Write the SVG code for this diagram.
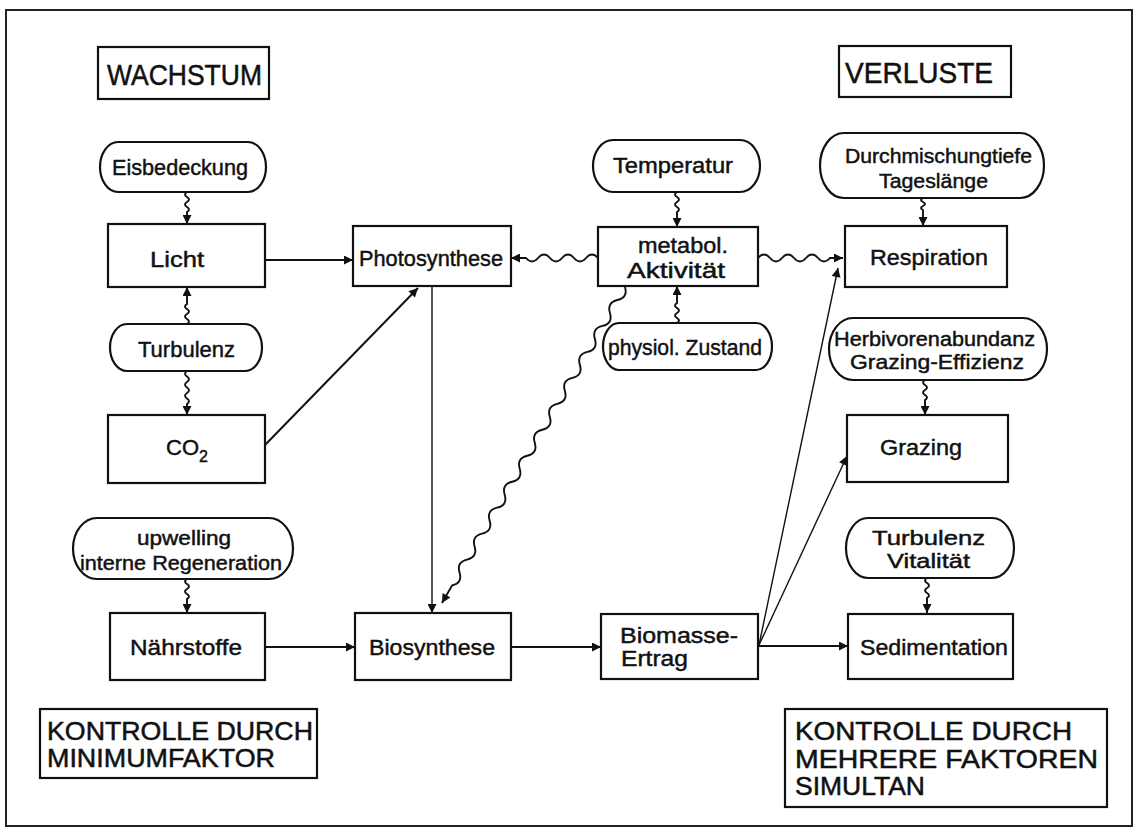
<svg xmlns="http://www.w3.org/2000/svg" width="1141" height="829" viewBox="0 0 1141 829">
<defs>
<marker id="ah" viewBox="0 0 10 10" refX="10" refY="5" markerWidth="10" markerHeight="9" markerUnits="userSpaceOnUse" orient="auto">
<path d="M0,0 L10,5 L0,10 z" fill="#111"/>
</marker>
<style>
.box{fill:#fff;stroke:#111;stroke-width:2.2}
.frame{fill:none;stroke:#222;stroke-width:2}
.t{font-family:"Liberation Sans",Arial,sans-serif;font-size:22px;fill:#111;stroke:#111;stroke-width:0.45}
.s{font-size:20px}
.h{font-family:"Liberation Sans",Arial,sans-serif;font-size:29px;fill:#111;stroke:#111;stroke-width:0.5}
.k{font-family:"Liberation Sans",Arial,sans-serif;font-size:25px;fill:#111;stroke:#111;stroke-width:0.5}
.c{fill:none;stroke:#111;stroke-width:2;marker-end:url(#ah)}
.w{fill:none;stroke:#111;stroke-width:1.9;marker-end:url(#ah)}
.thin{fill:none;stroke:#111;stroke-width:1.4;marker-end:url(#ah)}
</style>
</defs>
<rect width="1141" height="829" fill="#fff"/>
<rect class="frame" x="6" y="10" width="1126" height="816"/>

<g id="connectors">
<path class="c" d="M265,260 L353,260"/>
<path class="c" d="M265,445 L418,288"/>
<path class="thin" d="M432,286 L432,613"/>
<path class="c" d="M265,647 L355,647"/>
<path class="c" d="M511,647 L601,647"/>
<path class="c" d="M758,646 L848,646"/>
<path class="thin" d="M759,645 L838,268"/>
<path class="thin" d="M759,645 L847,456"/>
<path class="w" d="M598,258 q-6,-7 -12,0 t-12,0 t-12,0 t-12,0 t-12,0 t-12,0 l-15,0"/>
<path class="w" d="M758,258 q6,-7 12,0 t12,0 t12,0 t12,0 t12,0 t12,0 l13,0"/>
<path class="w" d="M625,287 q3.16,10.5 -7.52,12.98 t-7.52,12.98 t-7.52,12.98 t-7.52,12.98 t-7.52,12.98 t-7.52,12.98 t-7.52,12.98 t-7.52,12.98 t-7.52,12.98 t-7.52,12.98 t-7.52,12.98 t-7.52,12.98 t-7.52,12.98 t-7.52,12.98 t-7.52,12.98 t-7.52,12.98 t-7.52,12.98 t-7.52,12.98 t-7.52,12.98 t-7.52,12.98 t-7.52,12.98 t-7.52,12.98 t-7.52,12.98 l-10.1,17.5"/>
<path class="w" d="M187,192 q-4,2.5 0,5 t0,5 t0,5 t0,5 l0,12"/>
<path class="w" d="M187,324 q4,-2.5 0,-5 t0,-5 t0,-5 t0,-5 l0,-17"/>
<path class="w" d="M187,371 q-4,2.75 0,5.5 t0,5.5 t0,5.5 t0,5.5 t0,5.5 t0,5.5 l0,11"/>
<path class="w" d="M187,579 q-4,2.5 0,5 t0,5 t0,5 t0,5 l0,14"/>
<path class="w" d="M677,192 q-4,2.5 0,5 t0,5 t0,5 t0,5 l0,15"/>
<path class="w" d="M677,323 q4,-2.5 0,-5 t0,-5 t0,-5 t0,-5 l0,-17"/>
<path class="w" d="M923,198 q-4,2 0,4 t0,4 t0,4 l0,16"/>
<path class="w" d="M925,380 q-4,2.5 0,5 t0,5 t0,5 t0,5 l0,15"/>
<path class="w" d="M927,578 q-4,2.5 0,5 t0,5 t0,5 t0,5 l0,15"/>
</g>

<g id="wachstum">
<rect class="box" x="98" y="47" width="171" height="52"/>
<text class="h" x="107" y="85" textLength="155" lengthAdjust="spacingAndGlyphs">WACHSTUM</text>
</g>
<g id="verluste">
<rect class="box" x="839" y="46" width="172" height="51"/>
<text class="h" x="845" y="83" textLength="148" lengthAdjust="spacingAndGlyphs">VERLUSTE</text>
</g>

<g id="eisbedeckung">
<rect class="box" x="100" y="142" width="166" height="50" rx="18" ry="25"/>
<text class="t" x="112" y="175" textLength="136" lengthAdjust="spacingAndGlyphs">Eisbedeckung</text>
</g>
<g id="licht">
<rect class="box" x="108" y="224" width="157" height="63"/>
<text class="t" x="150" y="267" textLength="54" lengthAdjust="spacingAndGlyphs">Licht</text>
</g>
<g id="turbulenz1">
<rect class="box" x="110" y="324" width="152" height="47" rx="17" ry="23.5"/>
<text class="t" x="138" y="357" textLength="97" lengthAdjust="spacingAndGlyphs">Turbulenz</text>
</g>
<g id="co2">
<rect class="box" x="108" y="415" width="157" height="68"/>
<text class="t" x="166" y="455" font-size="21">CO<tspan font-size="16" dy="7">2</tspan></text>
</g>
<g id="upwelling">
<rect class="box" x="73" y="518" width="220" height="61" rx="24" ry="30.5"/>
<text class="t s" x="137" y="545" textLength="94" lengthAdjust="spacingAndGlyphs">upwelling</text>
<text class="t s" x="80" y="570" textLength="202" lengthAdjust="spacingAndGlyphs">interne Regeneration</text>
</g>
<g id="naehrstoffe">
<rect class="box" x="110" y="613" width="155" height="67"/>
<text class="t" x="130" y="655" textLength="112" lengthAdjust="spacingAndGlyphs">Nährstoffe</text>
</g>

<g id="photosynthese">
<rect class="box" x="353" y="226" width="158" height="60"/>
<text class="t" x="359" y="266" textLength="144" lengthAdjust="spacingAndGlyphs">Photosynthese</text>
</g>
<g id="biosynthese">
<rect class="box" x="355" y="613" width="156" height="67"/>
<text class="t" x="369" y="655" textLength="126" lengthAdjust="spacingAndGlyphs">Biosynthese</text>
</g>

<g id="temperatur">
<rect class="box" x="593" y="140" width="167" height="52" rx="20" ry="26"/>
<text class="t" x="613" y="173" textLength="120" lengthAdjust="spacingAndGlyphs">Temperatur</text>
</g>
<g id="metabol">
<rect class="box" x="598" y="227" width="160" height="59"/>
<text class="t" x="638" y="253" textLength="90" lengthAdjust="spacingAndGlyphs">metabol.</text>
<text class="t" x="627" y="278" textLength="98" lengthAdjust="spacingAndGlyphs">Aktivität</text>
</g>
<g id="physiol">
<rect class="box" x="603" y="323" width="169" height="47" rx="16" ry="23.5"/>
<text class="t" x="608" y="355" textLength="154" lengthAdjust="spacingAndGlyphs">physiol. Zustand</text>
</g>
<g id="biomasse">
<rect class="box" x="601" y="614" width="157" height="65"/>
<text class="t" x="620" y="643" textLength="118" lengthAdjust="spacingAndGlyphs">Biomasse-</text>
<text class="t" x="621" y="666" textLength="67" lengthAdjust="spacingAndGlyphs">Ertrag</text>
</g>

<g id="durchmischung">
<rect class="box" x="820" y="133" width="224" height="65" rx="24" ry="32.5"/>
<text class="t s" x="845" y="163" textLength="187" lengthAdjust="spacingAndGlyphs">Durchmischungtiefe</text>
<text class="t s" x="879" y="188" textLength="109" lengthAdjust="spacingAndGlyphs">Tageslänge</text>
</g>
<g id="respiration">
<rect class="box" x="845" y="226" width="162" height="61"/>
<text class="t" x="870" y="265" textLength="118" lengthAdjust="spacingAndGlyphs">Respiration</text>
</g>
<g id="herbivoren">
<rect class="box" x="829" y="318" width="218" height="62" rx="24" ry="31"/>
<text class="t s" x="834" y="346" textLength="201" lengthAdjust="spacingAndGlyphs">Herbivorenabundanz</text>
<text class="t s" x="850" y="369" textLength="174" lengthAdjust="spacingAndGlyphs">Grazing-Effizienz</text>
</g>
<g id="grazing">
<rect class="box" x="847" y="415" width="161" height="67"/>
<text class="t" x="880" y="455" textLength="82" lengthAdjust="spacingAndGlyphs">Grazing</text>
</g>
<g id="turbulenz2">
<rect class="box" x="846" y="518" width="168" height="60" rx="22" ry="30"/>
<text class="t s" x="872" y="545" textLength="113" lengthAdjust="spacingAndGlyphs">Turbulenz</text>
<text class="t s" x="887" y="568" textLength="83" lengthAdjust="spacingAndGlyphs">Vitalität</text>
</g>
<g id="sedimentation">
<rect class="box" x="848" y="614" width="165" height="65"/>
<text class="t" x="860" y="655" textLength="148" lengthAdjust="spacingAndGlyphs">Sedimentation</text>
</g>

<g id="kontrolle-links">
<rect class="box" x="40" y="709" width="277" height="69"/>
<text class="k" x="47" y="740" textLength="266" lengthAdjust="spacingAndGlyphs">KONTROLLE DURCH</text>
<text class="k" x="47" y="767" textLength="228" lengthAdjust="spacingAndGlyphs">MINIMUMFAKTOR</text>
</g>
<g id="kontrolle-rechts">
<rect class="box" x="785" y="709" width="322" height="98"/>
<text class="k" x="795" y="740" textLength="277" lengthAdjust="spacingAndGlyphs">KONTROLLE DURCH</text>
<text class="k" x="795" y="768" textLength="303" lengthAdjust="spacingAndGlyphs">MEHRERE FAKTOREN</text>
<text class="k" x="795" y="795" textLength="130" lengthAdjust="spacingAndGlyphs">SIMULTAN</text>
</g>
</svg>
